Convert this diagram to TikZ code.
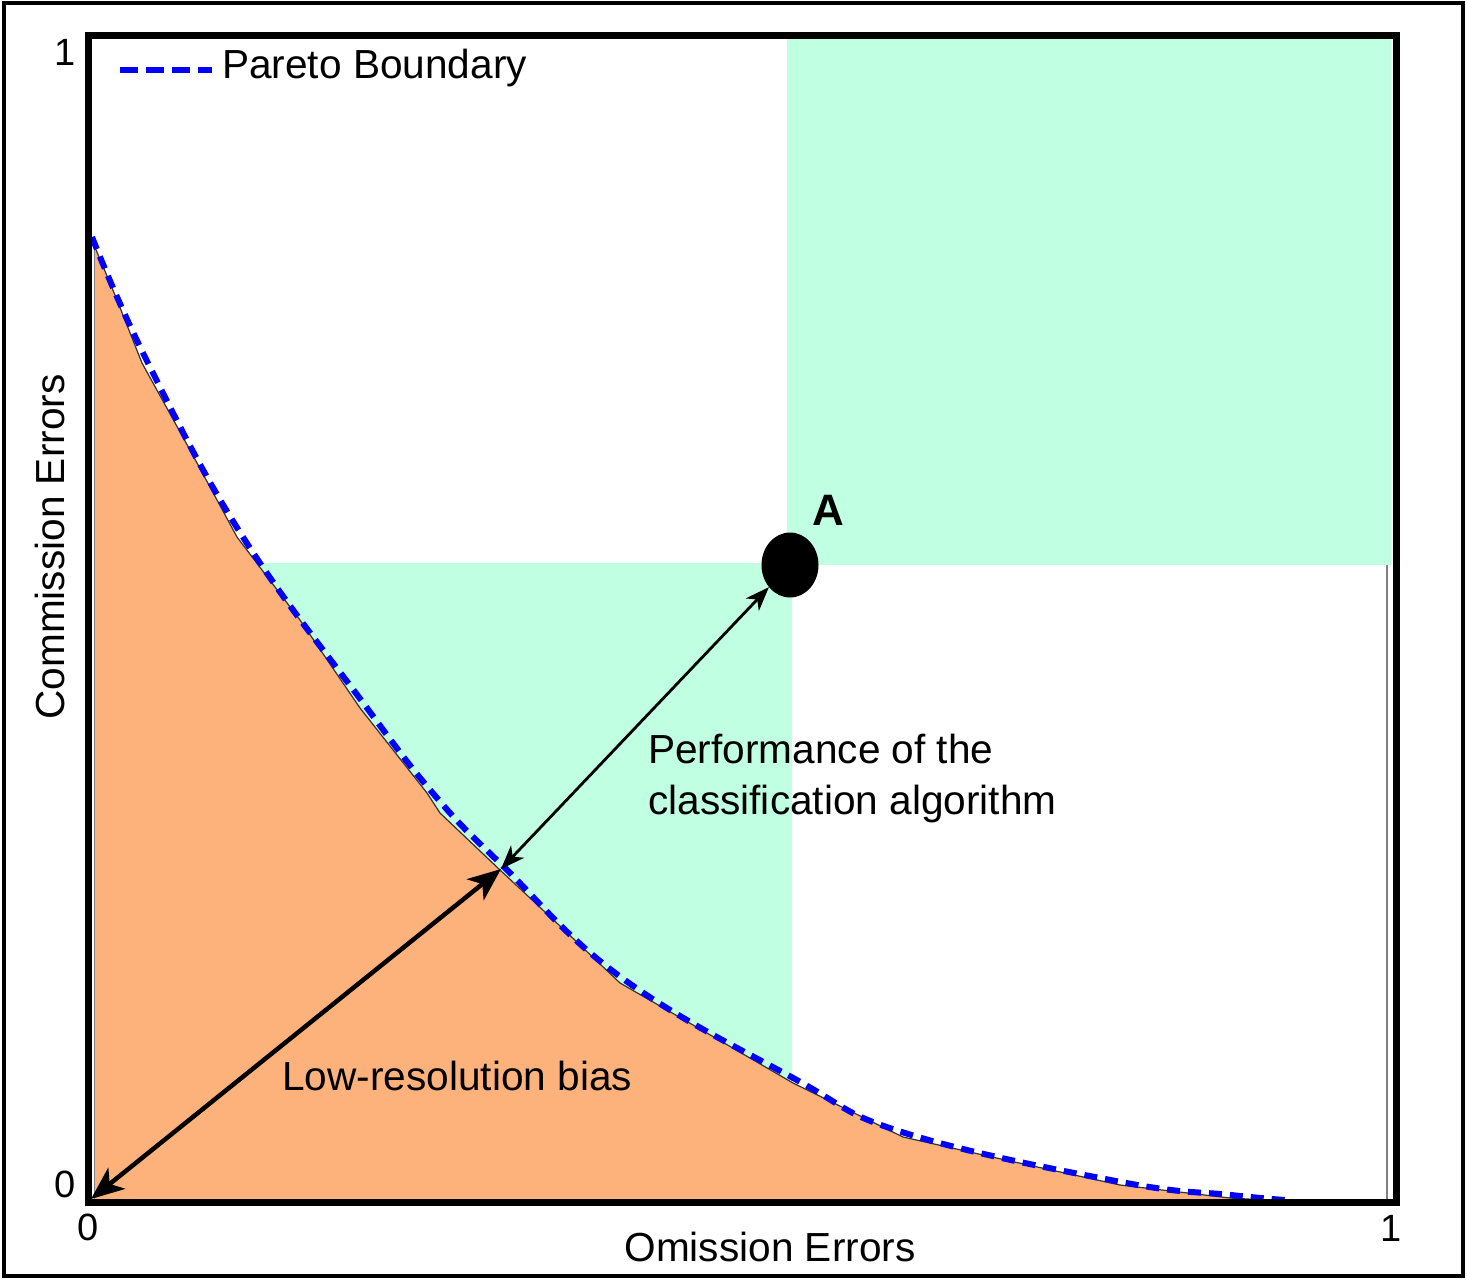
\documentclass[tikz,border=0pt]{standalone}
\usepackage{fontspec}
\setmainfont{Liberation Sans}
\usetikzlibrary{arrows.meta,shapes.geometric}
\definecolor{mint}{RGB}{193,255,227}
\definecolor{peach}{RGB}{253,178,124}
\definecolor{pblue}{RGB}{0,0,255}
\begin{document}
\begin{tikzpicture}[x=1pt,y=-1pt,
  lbl/.style={inner sep=0pt, font=\fontsize{40.6}{51}\selectfont},
  num/.style={inner sep=0pt, font=\fontsize{38}{44}\selectfont},
  pareto/.style={pblue, line width=6pt, dash pattern=on 13pt off 8pt},
  legdash/.style={pblue, line width=6.5pt, dash pattern=on 18pt off 8pt},
  thinarrow/.style={line width=2.8pt, {Stealth[length=24pt,width=18pt,inset=7pt]}-{Stealth[length=24pt,width=18pt,inset=7pt]}},
  thickarrow/.style={line width=4.5pt, {Stealth[length=33pt,width=27pt,inset=9pt]}-{Stealth[length=33pt,width=27pt,inset=9pt]}}]
\useasboundingbox (0,0) rectangle (1467,1280);
% green regions
\fill[mint] (787,38) rectangle (1391,565);
\fill[mint] (200,563) rectangle (792,1095);
% orange region under the boundary
\fill[peach] (94,1200) -- (94,245) -- (115,295) -- (142,363) -- (190,450) -- (237,537) -- (300,620) -- (360,708) -- (427,793) -- (440,813) -- (500,870) -- (560,926) -- (620,983) -- (700,1029) -- (793,1083) -- (903,1137) -- (1010,1161) -- (1120,1185) -- (1230,1198) -- (1283,1201) -- cycle;
\draw[gray, line width=1pt] (94,1200) -- (94,245);
\draw[black!80, line width=1.2pt] (94,245) -- (115,295) -- (142,363) -- (190,450) -- (237,537) -- (300,620) -- (360,708) -- (427,793) -- (440,813) -- (500,870) -- (560,926) -- (620,983) -- (700,1029) -- (793,1083) -- (903,1137) -- (1010,1161) -- (1120,1185) -- (1230,1198) -- (1283,1201);
\draw[gray, line width=1.5pt] (1387,565) -- (1387,1200);
% Pareto boundary
\draw[pareto] plot[smooth, tension=0.7] coordinates {(92,237) (146,359) (241,534) (364,704) (437,798) (503,866) (622,978) (795,1079) (905,1133) (1121,1182) (1231,1195) (1285,1200)};
% frames
\draw[line width=4pt] (4,3) rectangle (1463,1276);
\draw[line width=7pt] (88.5,35.5) rectangle (1396.5,1202);
% legend
\coordinate (lg1) at (120,70);
\coordinate (lg2) at (212,70);
\draw[legdash] (lg1) -- (lg2);
\node[lbl, anchor=base west] (legtxt) at (222,78) {Pareto Boundary};
% point A and arrows
\node[ellipse, fill=black, minimum width=57pt, minimum height=65pt, inner sep=0pt] (A) at (790,565) {};
\node[inner sep=0pt, anchor=base, font=\fontsize{44}{50}\selectfont\bfseries] (Alabel) at (828,525) {A};
\coordinate (pk) at (501,869);
\coordinate (O) at (91,1199);
\draw[thinarrow] (pk) -- (A);
\draw[thickarrow] (O) -- (pk);
\node[lbl, anchor=west, align=left] (perf) at (648,778) {Performance of the\\classification algorithm};
\node[lbl, anchor=base west] (lowres) at (282,1090) {Low-resolution bias};
% axes labels
\node[num, anchor=base] (y1) at (65,65) {1};
\node[num, anchor=base] (y0) at (65,1197) {0};
\node[num, anchor=base] (x0) at (88,1240) {0};
\node[num, anchor=base] (x1) at (1391,1241) {1};
\node[lbl, anchor=base] (xlab) at (770,1261) {Omission Errors};
\node[lbl, anchor=base, rotate=90] (ylab) at (64,547) {Commission Errors};
\end{tikzpicture}
\end{document}
